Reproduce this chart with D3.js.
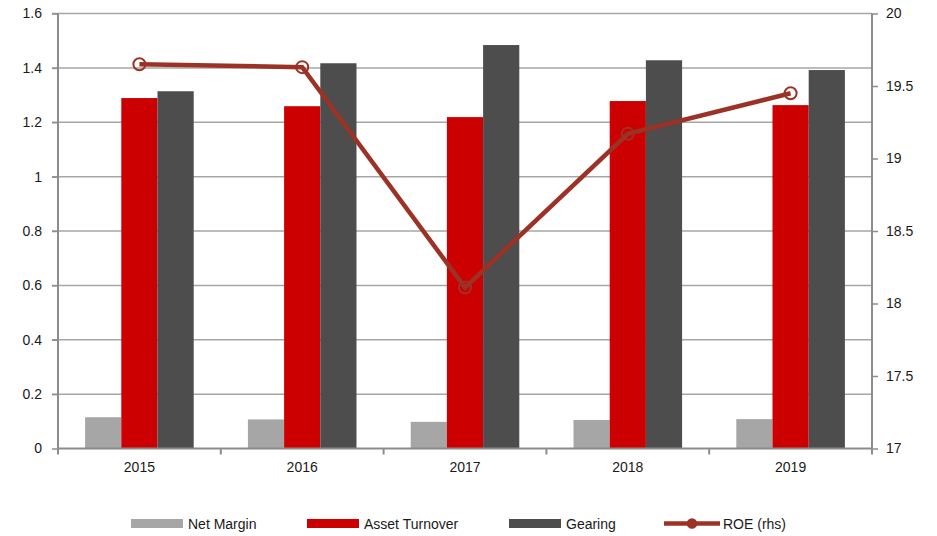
<!DOCTYPE html>
<html>
<head>
<meta charset="utf-8">
<script src="https://cdn.jsdelivr.net/npm/d3@7"></script>
<style>
  body { margin: 0; background: #fff; }
  text { font-family: "Liberation Sans", Arial, sans-serif; fill: #1a1a1a; }
</style>
</head>
<body>
<div class="chart"></div>
<script>
const years = ["2015", "2016", "2017", "2018", "2019"];
const netMargin = [0.115, 0.107, 0.098, 0.105, 0.108];
const assetTurnover = [1.289, 1.259, 1.219, 1.278, 1.263];
const gearing = [1.314, 1.417, 1.484, 1.428, 1.392];
const roe = [19.65, 19.63, 18.11, 19.17, 19.45];
const leftTicks = [0, 0.2, 0.4, 0.6, 0.8, 1, 1.2, 1.4, 1.6];
const rightTicks = [17, 17.5, 18, 18.5, 19, 19.5, 20];
const barSeries = [
	{ name: "Net Margin", values: netMargin, color: "#a6a6a6" },
	{ name: "Asset Turnover", values: assetTurnover, color: "#cc0000" },
	{ name: "Gearing", values: gearing, color: "#4d4d4d" },
];
const lineColor = "#9c3226";

const margin = { top: 13.5, right: 65, left: 58, bottom: 87.5 };
const width = 937 - margin.left - margin.right;
const height = 536 - margin.top - margin.bottom;

const svg = d3
	.select(".chart")
	.append("svg")
	.attr("width", 937)
	.attr("height", 536);

const g = svg.append("g").attr("transform", `translate(${margin.left},${margin.top})`);

const xScale = d3.scaleBand().domain(years).range([0, width]).paddingInner(0.333).paddingOuter(0.1665);
const xInner = d3.scaleBand().domain(barSeries.map((s) => s.name)).range([0, xScale.bandwidth()]);
const yLeft = d3.scaleLinear().domain([0, 1.6]).range([height, 0]);
const yRight = d3.scaleLinear().domain([17, 20]).range([height, 0]);

// gridlines
g.append("g")
	.selectAll("line")
	.data(leftTicks.filter((d) => d > 0))
	.join("line")
	.attr("x1", -6)
	.attr("x2", width)
	.attr("y1", (d) => yLeft(d))
	.attr("y2", (d) => yLeft(d))
	.attr("stroke", "#a6a6a6")
	.attr("stroke-width", 1.5);

// bars
barSeries.forEach((s) => {
	g.append("g")
		.selectAll("rect")
		.data(s.values)
		.join("rect")
		.attr("x", (d, i) => xScale(years[i]) + xInner(s.name))
		.attr("y", (d) => yLeft(d))
		.attr("width", xInner.bandwidth())
		.attr("height", (d) => height - yLeft(d))
		.attr("fill", s.color);
});

// axes
const leftAxis = g.append("g").call(d3.axisLeft(yLeft).tickValues(leftTicks).tickSize(6).tickPadding(10).tickFormat((d) => d3.format("")(d)));
const rightAxis = g.append("g").attr("transform", `translate(${width},0)`).call(d3.axisRight(yRight).tickValues(rightTicks).tickSize(6).tickPadding(8).tickFormat((d) => d));
const bottomAxis = g.append("g").attr("transform", `translate(0,${height})`).call(d3.axisBottom(xScale).tickSize(0).tickPadding(14));

const boundaries = d3.range(years.length + 1).map((i) => (i * width) / years.length);
bottomAxis
	.selectAll(".sep")
	.data(boundaries)
	.join("line")
	.attr("class", "sep")
	.attr("x1", (d) => d)
	.attr("x2", (d) => d)
	.attr("y1", 0)
	.attr("y2", 6)
	.attr("stroke", "#8c8c8c")
	.attr("stroke-width", 2);

[leftAxis, rightAxis, bottomAxis].forEach((ax) => {
	ax.select(".domain").attr("stroke", "#8c8c8c").attr("stroke-width", 2);
	ax.selectAll(".tick line").attr("stroke", "#8c8c8c").attr("stroke-width", 1.5);
	ax.selectAll("text").style("font-size", "14px").attr("fill", "#1a1a1a").style("font-family", "Liberation Sans, Arial, sans-serif");
});
leftAxis.select(".domain").attr("d", `M0,0V${height}`);
rightAxis.select(".domain").attr("d", `M0,0V${height}`);
bottomAxis.select(".domain").attr("d", `M0,0H${width}`);

// ROE line
const cx = (i) => xScale(years[i]) + xScale.bandwidth() / 2;
const line = d3.line().x((d, i) => cx(i)).y((d) => yRight(d));
g.append("path")
	.datum(roe)
	.attr("d", line)
	.attr("fill", "none")
	.attr("stroke", lineColor)
	.attr("stroke-width", 4.5);

g.append("g")
	.selectAll("circle")
	.data(roe)
	.join("circle")
	.attr("cx", (d, i) => cx(i))
	.attr("cy", (d) => yRight(d))
	.attr("r", 6)
	.attr("fill", "none")
	.attr("stroke", lineColor)
	.attr("stroke-width", 2);

// legend
const legend = svg.append("g");
const legendX = [131, 307, 509];
barSeries.forEach((s, i) => {
	legend.append("rect")
		.attr("x", legendX[i])
		.attr("y", 519)
		.attr("width", 52)
		.attr("height", 9)
		.attr("fill", s.color);
	legend.append("text")
		.attr("x", legendX[i] + 57)
		.attr("y", 529)
		.style("font-size", "14px")
		.text(s.name);
});
legend.append("line")
	.attr("x1", 664)
	.attr("x2", 720)
	.attr("y1", 523.5)
	.attr("y2", 523.5)
	.attr("stroke", lineColor)
	.attr("stroke-width", 4.5);
legend.append("circle")
	.attr("cx", 692)
	.attr("cy", 523.5)
	.attr("r", 4.5)
	.attr("fill", lineColor)
	.attr("stroke", lineColor)
	.attr("stroke-width", 1.5);
legend.append("text")
	.attr("x", 723)
	.attr("y", 529)
	.style("font-size", "14px")
	.text("ROE (rhs)");
</script>
</body>
</html>
